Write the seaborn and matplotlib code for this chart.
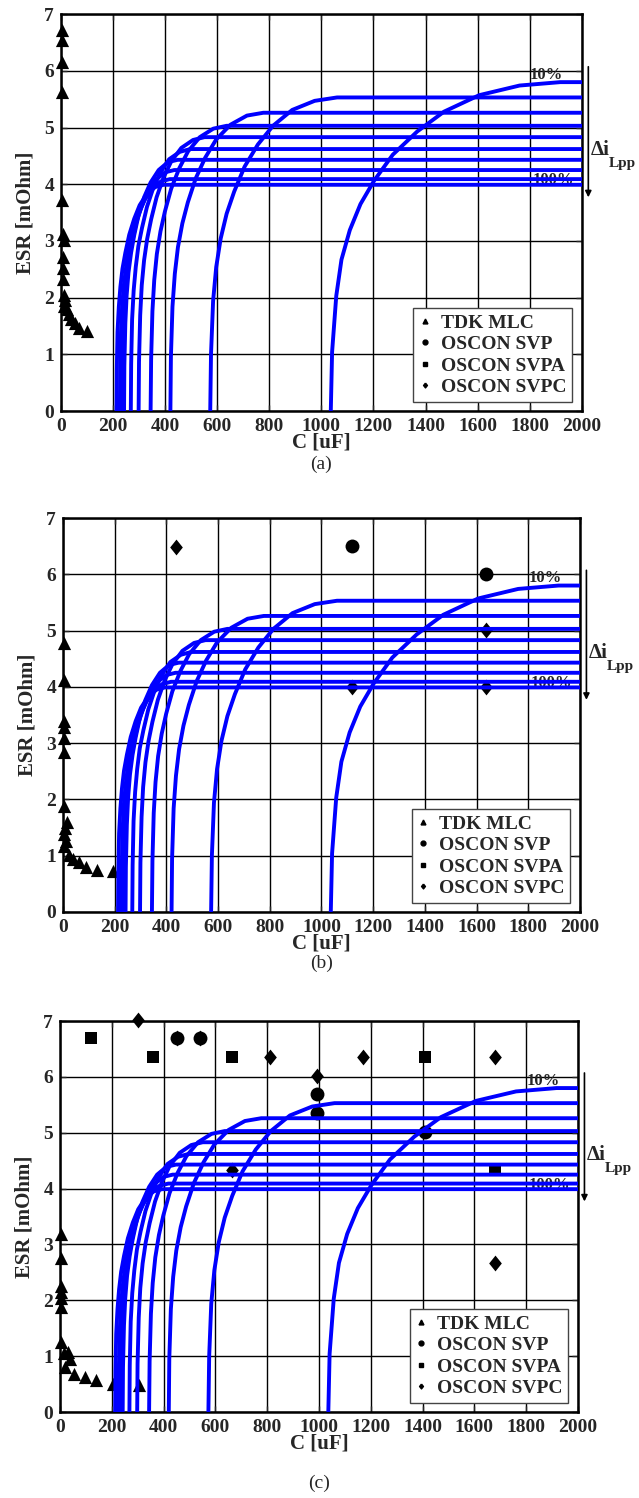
import matplotlib
matplotlib.use('Agg')
import matplotlib.pyplot as plt
from matplotlib.lines import Line2D
import seaborn as sns
import pandas as pd

# ESR limit curves, one per inductor ripple (10% ... 100%), same in all panels
c_r10 = [1036, 1041, 1057, 1077, 1109, 1150, 1202, 1274, 1368, 1471, 1606, 1761, 1917, 2000]
esr_r10 = [0, 1.04, 2.03, 2.67, 3.19, 3.65, 4.06, 4.52, 4.93, 5.28, 5.57, 5.74, 5.80, 5.80]
c_r20 = [573, 576, 584, 596, 613, 636, 665, 705, 756, 814, 888, 974, 1060, 2000]
esr_r20 = [0, 1.00, 1.94, 2.54, 3.04, 3.48, 3.87, 4.31, 4.70, 5.03, 5.31, 5.47, 5.53, 5.53]
c_r30 = [420, 422, 428, 437, 449, 466, 487, 517, 554, 596, 651, 714, 777, 2000]
esr_r30 = [0, 0.95, 1.84, 2.42, 2.89, 3.31, 3.68, 4.10, 4.47, 4.79, 5.05, 5.21, 5.26, 5.26]
c_r40 = [344, 346, 351, 358, 368, 382, 399, 423, 454, 488, 533, 585, 636, 2000]
esr_r40 = [0, 0.91, 1.76, 2.31, 2.77, 3.17, 3.52, 3.92, 4.28, 4.58, 4.83, 4.98, 5.03, 5.03]
c_r50 = [298, 299.5, 304, 310, 319, 331, 346, 367, 393, 423, 462, 507, 551, 2000]
esr_r50 = [0, 0.87, 1.69, 2.22, 2.66, 3.04, 3.38, 3.77, 4.11, 4.40, 4.64, 4.78, 4.83, 4.83]
c_r60 = [268, 269.3, 273, 279, 287, 297, 311, 330, 354, 381, 415, 456, 496, 2000]
esr_r60 = [0, 0.83, 1.62, 2.13, 2.54, 2.91, 3.23, 3.60, 3.93, 4.20, 4.44, 4.57, 4.62, 4.62]
c_r70 = [242, 243.2, 247, 252, 259, 269, 281, 298, 319, 344, 375, 411, 448, 2000]
esr_r70 = [0, 0.80, 1.55, 2.04, 2.44, 2.79, 3.10, 3.46, 3.77, 4.03, 4.25, 4.39, 4.43, 4.43]
c_r80 = [235, 236.2, 240, 244, 251, 261, 273, 289, 310, 334, 364, 400, 435, 2000]
esr_r80 = [0, 0.77, 1.49, 1.96, 2.34, 2.68, 2.98, 3.32, 3.61, 3.87, 4.08, 4.21, 4.25, 4.25]
c_r90 = [226, 227.1, 230.5, 235, 242, 251, 262, 278, 298, 321, 350, 384, 418, 2000]
esr_r90 = [0, 0.74, 1.43, 1.88, 2.25, 2.58, 2.86, 3.19, 3.48, 3.72, 3.93, 4.05, 4.09, 4.09]
c_r100 = [213, 214.1, 217, 222, 228, 236, 247, 262, 281, 302, 330, 362, 394, 2000]
esr_r100 = [0, 0.72, 1.40, 1.84, 2.19, 2.51, 2.79, 3.11, 3.39, 3.63, 3.83, 3.95, 3.99, 3.99]

# capacitor data, panel (a)
a_tdk_c = [2, 2, 2, 2, 2, 8, 10, 6, 6, 6, 10, 15, 10, 22, 30, 40, 55, 70, 100]
a_tdk_esr = [6.72, 6.55, 6.15, 5.62, 3.72, 3.12, 3.02, 2.72, 2.52, 2.32, 2.05, 1.95,
             1.85, 1.80, 1.72, 1.62, 1.55, 1.47, 1.42]

# panel (b)
b_tdk_c = [2, 2, 2, 2, 2, 2, 2, 15, 8, 5, 10, 5, 22, 40, 60, 90, 130, 192]
b_tdk_esr = [4.78, 4.12, 3.40, 3.28, 3.10, 2.85, 1.88, 1.60, 1.50, 1.38, 1.26, 1.17,
             1.02, 0.95, 0.88, 0.80, 0.75, 0.72]
b_svp_c = [1117, 1636]
b_svp_esr = [6.50, 6.00]
b_svpc_c = [436, 1117, 1636, 1636]
b_svpc_esr = [6.49, 3.99, 5.01, 3.99]

# panel (c)
c_tdk_c = [3, 3, 3, 5, 3, 3, 3, 15, 30, 40, 20, 55, 95, 140, 203, 306]
c_tdk_esr = [3.18, 2.75, 2.25, 2.15, 2.05, 1.88, 1.25, 1.05, 1.08, 0.95, 0.80, 0.68,
             0.62, 0.58, 0.50, 0.48]
c_svp_c = [453, 541, 991, 991, 1409]
c_svp_esr = [6.69, 6.69, 5.69, 5.36, 5.02]
c_svpa_c = [118, 360, 663, 1409, 1680]
c_svpa_esr = [6.69, 6.35, 6.35, 6.35, 4.35]
c_svpc_c = [300, 453, 541, 663, 811, 991, 1171, 1680, 1680]
c_svpc_esr = [7.02, 6.69, 6.69, 4.33, 6.35, 6.02, 6.35, 6.35, 2.66]

series_names = ['TDK MLC', 'OSCON SVP', 'OSCON SVPA', 'OSCON SVPC']

curve_sets = [('10%', c_r10, esr_r10), ('20%', c_r20, esr_r20), ('30%', c_r30, esr_r30),
              ('40%', c_r40, esr_r40), ('50%', c_r50, esr_r50), ('60%', c_r60, esr_r60),
              ('70%', c_r70, esr_r70), ('80%', c_r80, esr_r80), ('90%', c_r90, esr_r90),
              ('100%', c_r100, esr_r100)]
curves = pd.concat([pd.DataFrame({'C': c, 'ESR': e, 'ripple': r}) for r, c, e in curve_sets],
                   ignore_index=True)

sns.set_style('ticks')
plt.rcParams['font.family'] = ['Liberation Serif', 'DejaVu Serif']
plt.rcParams['font.weight'] = 'bold'
plt.rcParams['axes.labelweight'] = 'bold'

diamond = [(0, 1), (0.8, 0), (0, -1), (-0.8, 0), (0, 1)]
markers = {'TDK MLC': ('^', 90), 'OSCON SVP': ('o', 100),
           'OSCON SVPA': ('s', 80), 'OSCON SVPC': (diamond, 130)}


def draw_panel(ax, caption, data):
    ax.set_axisbelow(True)
    ax.grid(True, color='black', lw=1.0)
    for name, (xs, ys) in data.items():
        mk, s = markers[name]
        sns.scatterplot(x=xs, y=ys, marker=mk, s=s, color='black', edgecolor='black',
                        linewidth=0, ax=ax, zorder=2.5, clip_on=False)
    sns.lineplot(data=curves, x='C', y='ESR', units='ripple', estimator=None, sort=False,
                 color='#0000ff', lw=2.8, ax=ax, zorder=3, legend=False)

    ax.set_xlim(0, 2000)
    ax.set_ylim(0, 7)
    ax.set_xticks(range(0, 2001, 200))
    ax.set_yticks(range(0, 8))
    ax.tick_params(direction='in', top=True, right=True, length=4, width=1,
                   labelsize=14, pad=5)
    for sp in ax.spines.values():
        sp.set_linewidth(1.8)
        sp.set_color('black')
    ax.set_xlabel('C [uF]', fontsize=15, labelpad=-2)
    ax.set_ylabel('ESR [mOhm]', fontsize=15, labelpad=6)

    ax.text(1865, 5.93, '10%', fontsize=12, ha='center', va='center', zorder=2)
    ax.text(1890, 4.07, '100%', fontsize=12, ha='center', va='center', zorder=2)
    ax.annotate('', xy=(2025, 3.72), xytext=(2025, 6.12), annotation_clip=False,
                arrowprops=dict(arrowstyle='-|>', color='black', lw=1.2, mutation_scale=9))
    ax.text(2033, 4.6, '\u0394i', fontsize=15, ha='left', va='center', clip_on=False)
    ax.text(2102, 4.36, 'Lpp', fontsize=11, ha='left', va='center', clip_on=False)

    handles = [Line2D([], [], ls='none', marker=markers[n][0], markersize=3.5,
                      color='black') for n in series_names]
    leg = ax.legend(handles, series_names, loc='lower right', bbox_to_anchor=(0.981, 0.023),
                    borderaxespad=0, fancybox=False, framealpha=1, edgecolor='#444444',
                    fontsize=14, handlelength=0.6, handletextpad=0.5, labelspacing=0.2,
                    borderpad=0.3)
    leg.get_frame().set_linewidth(1.0)
    leg.set_zorder(5)

    pos = ax.get_position()
    fig.text(pos.x0 + pos.width / 2, caption[1], caption[0], ha='center', va='center',
             fontsize=14, fontweight='normal')


fig = plt.figure(figsize=(6.39, 14.98), dpi=100)
ax_a = fig.add_axes([0.0955, 0.7256, 0.815, 0.2650])
ax_b = fig.add_axes([0.0986, 0.3912, 0.809, 0.2630])
ax_c = fig.add_axes([0.0939, 0.0574, 0.8106, 0.2610])

draw_panel(ax_a, ('(a)', 0.690), {'TDK MLC': (a_tdk_c, a_tdk_esr)})
draw_panel(ax_b, ('(b)', 0.357), {'TDK MLC': (b_tdk_c, b_tdk_esr),
                                  'OSCON SVP': (b_svp_c, b_svp_esr),
                                  'OSCON SVPC': (b_svpc_c, b_svpc_esr)})
draw_panel(ax_c, ('(c)', 0.010), {'TDK MLC': (c_tdk_c, c_tdk_esr),
                                  'OSCON SVP': (c_svp_c, c_svp_esr),
                                  'OSCON SVPA': (c_svpa_c, c_svpa_esr),
                                  'OSCON SVPC': (c_svpc_c, c_svpc_esr)})

fig.savefig('out.png', dpi=100)
